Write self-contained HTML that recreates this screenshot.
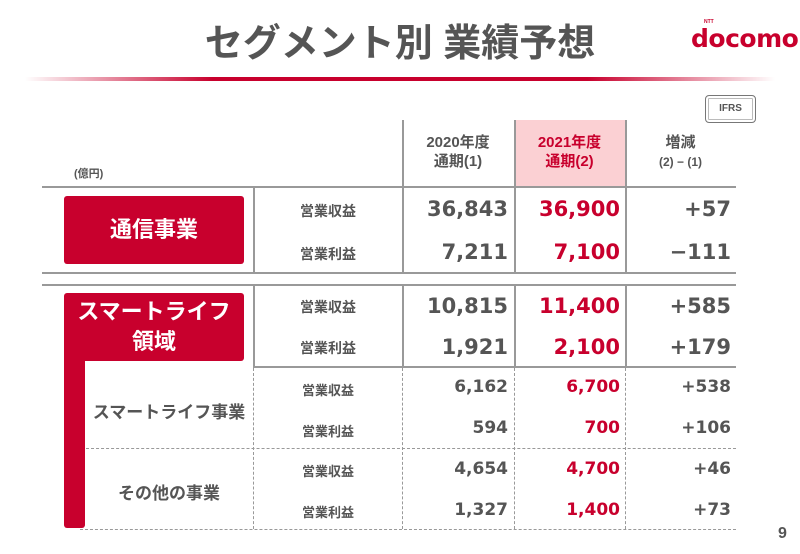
<!DOCTYPE html>
<html><head><meta charset="utf-8"><style>
body{margin:0;width:800px;height:554px;background:#fff;position:relative;overflow:hidden;font-family:"Liberation Sans","Noto Sans CJK JP",sans-serif;color:#555}
.a{position:absolute}
.t{white-space:nowrap}
.hl{position:absolute;height:2px;background:#999}
.vl{position:absolute;width:1.5px;background:#999}
.dh{position:absolute;height:0;border-top:1.5px dashed #999}
.dv{position:absolute;width:0;border-left:1.5px dashed #999}
.lab{position:absolute;width:148px;left:254px;text-align:center;font-weight:bold;font-size:14px;color:#555}
.num{position:absolute;text-align:right;font-weight:bold;white-space:nowrap;font-family:"DejaVu Sans",sans-serif}
.big{font-size:21px}
.sm{font-size:17px}
.red{color:#c8002d}
.box{position:absolute;background:#c8002d;color:#fff;font-weight:bold;text-align:center;border-radius:3px}
</style></head><body>
<div class="a t" style="left:0;width:800px;top:12px;text-align:center;font-size:38px;font-weight:bold;color:#555">セグメント別 業績予想</div>
<div class="a t" style="left:691px;top:24px;font-size:25px;font-weight:bold;color:#c8002d;letter-spacing:-0.5px;font-family:'DejaVu Sans',sans-serif">docomo</div>
<div class="a t" style="left:704px;top:19px;font-size:5px;color:#c8002d;font-weight:bold">NTT</div>
<div class="a" style="left:25px;top:77px;width:750px;height:4px;background:linear-gradient(90deg,rgba(200,0,45,0),#c8002d 25%,#c8002d 75%,rgba(200,0,45,0))"></div>
<div class="a" style="left:705px;top:95px;width:49px;height:26px;border:1.5px solid #777;border-radius:4px;box-shadow:inset 0 0 0 2px #fff,inset 0 0 0 3px #bbb;font-size:10px;font-weight:bold;text-align:center;line-height:26px;color:#555">IFRS</div>
<div class="a" style="left:514px;top:120px;width:111px;height:66px;background:#fbd0d3"></div>
<div class="a t" style="left:74px;top:165px;font-size:11px;font-weight:bold">(億円)</div>
<div class="a t" style="left:402px;width:112px;top:133px;text-align:center;font-size:15px;font-weight:bold;line-height:19px">2020年度<br>通期(1)</div>
<div class="a t red" style="left:514px;width:111px;top:133px;text-align:center;font-size:15px;font-weight:bold;line-height:19px">2021年度<br>通期(2)</div>
<div class="a t" style="left:625px;width:111px;top:133px;text-align:center;font-size:15px;font-weight:bold;line-height:19px">増減<br><span style="font-size:12px">(2) − (1)</span></div>
<div class="vl" style="left:402px;top:120px;height:153px"></div>
<div class="vl" style="left:514px;top:120px;height:153px"></div>
<div class="vl" style="left:625px;top:120px;height:153px"></div>
<div class="vl" style="left:402px;top:285px;height:82px"></div>
<div class="vl" style="left:514px;top:285px;height:82px"></div>
<div class="vl" style="left:625px;top:285px;height:82px"></div>
<div class="vl" style="left:253px;top:186px;height:87px"></div>
<div class="vl" style="left:253px;top:285px;height:82px"></div>
<div class="hl" style="left:42px;top:186px;width:694px"></div>
<div class="hl" style="left:42px;top:272px;width:694px"></div>
<div class="hl" style="left:42px;top:284px;width:694px"></div>
<div class="hl" style="left:253px;top:366px;width:483px"></div>
<div class="dv" style="left:253px;top:368px;height:161px"></div>
<div class="dv" style="left:402px;top:368px;height:161px"></div>
<div class="dv" style="left:514px;top:368px;height:161px"></div>
<div class="dv" style="left:625px;top:368px;height:161px"></div>
<div class="dh" style="left:86px;top:448px;width:650px"></div>
<div class="dh" style="left:80px;top:529px;width:656px"></div>
<div class="box" style="left:64px;top:196px;width:180px;height:68px;line-height:68px;font-size:22px">通信事業</div>
<div class="box" style="left:64px;top:293px;width:180px;height:68px;font-size:22px;line-height:30px;padding-top:4px;box-sizing:border-box">スマートライフ<br>領域</div>
<div class="a" style="left:64px;top:355px;width:21px;height:173px;background:#c8002d;border-radius:0 0 3px 3px"></div>
<div class="a t" style="left:86px;width:166px;top:398px;text-align:center;font-size:17px;font-weight:bold">スマートライフ事業</div>
<div class="a t" style="left:86px;width:166px;top:479px;text-align:center;font-size:17px;font-weight:bold">その他の事業</div>
<div class="lab" style="top:201px">営業収益</div>
<div class="lab" style="top:244px">営業利益</div>
<div class="lab" style="top:297px">営業収益</div>
<div class="lab" style="top:338px">営業利益</div>
<div class="lab" style="top:380px;font-size:13px">営業収益</div>
<div class="lab" style="top:421px;font-size:13px">営業利益</div>
<div class="lab" style="top:461px;font-size:13px">営業収益</div>
<div class="lab" style="top:502px;font-size:13px">営業利益</div>
<div class="num big" style="right:292px;top:197px">36,843</div>
<div class="num big red" style="right:180px;top:197px">36,900</div>
<div class="num big" style="right:69px;top:197px">+57</div>
<div class="num big" style="right:292px;top:240px">7,211</div>
<div class="num big red" style="right:180px;top:240px">7,100</div>
<div class="num big" style="right:69px;top:240px">−111</div>
<div class="num big" style="right:292px;top:294px">10,815</div>
<div class="num big red" style="right:180px;top:294px">11,400</div>
<div class="num big" style="right:69px;top:294px">+585</div>
<div class="num big" style="right:292px;top:335px">1,921</div>
<div class="num big red" style="right:180px;top:335px">2,100</div>
<div class="num big" style="right:69px;top:335px">+179</div>
<div class="num sm" style="right:292px;top:377px">6,162</div>
<div class="num sm red" style="right:180px;top:377px">6,700</div>
<div class="num sm" style="right:69px;top:377px">+538</div>
<div class="num sm" style="right:292px;top:418px">594</div>
<div class="num sm red" style="right:180px;top:418px">700</div>
<div class="num sm" style="right:69px;top:418px">+106</div>
<div class="num sm" style="right:292px;top:459px">4,654</div>
<div class="num sm red" style="right:180px;top:459px">4,700</div>
<div class="num sm" style="right:69px;top:459px">+46</div>
<div class="num sm" style="right:292px;top:500px">1,327</div>
<div class="num sm red" style="right:180px;top:500px">1,400</div>
<div class="num sm" style="right:69px;top:500px">+73</div>
<div class="a t" style="left:778px;top:525px;font-size:16px;font-weight:bold">9</div>
</body></html>
